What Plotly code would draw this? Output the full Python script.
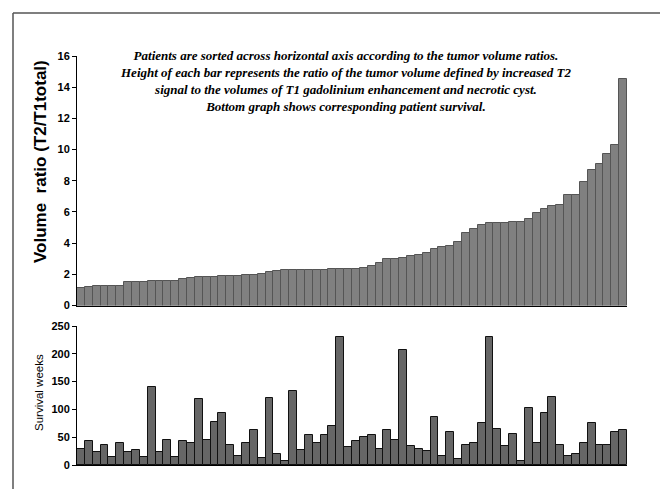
import plotly.graph_objects as go

# Volume ratio (T2 / T1 total) per patient, sorted ascending
volume_ratio = [
    1.14, 1.21, 1.25, 1.25, 1.25, 1.25, 1.53, 1.53, 1.53, 1.59,
    1.59, 1.59, 1.59, 1.68, 1.75, 1.82, 1.86, 1.86, 1.92, 1.92,
    1.92, 1.96, 1.96, 2.04, 2.12, 2.19, 2.26, 2.26, 2.30, 2.30,
    2.30, 2.30, 2.36, 2.36, 2.36, 2.36, 2.42, 2.55, 2.70, 2.96,
    2.96, 3.02, 3.15, 3.24, 3.37, 3.60, 3.74, 3.81, 4.07, 4.65,
    4.90, 5.18, 5.30, 5.30, 5.30, 5.33, 5.37, 5.56, 5.95, 6.17,
    6.38, 6.44, 7.08, 7.08, 7.92, 8.67, 9.05, 9.71, 10.29, 14.52,
]

# Survival in weeks for the same patients, same order
survival_weeks = [
    29, 43, 23, 36, 15, 40, 23, 27, 15, 140,
    23, 45, 14, 43, 40, 118, 45, 78, 94, 36,
    16, 40, 63, 12, 120, 19, 8, 133, 27, 54,
    40, 54, 71, 230, 32, 43, 50, 54, 29, 63,
    45, 207, 34, 29, 25, 87, 17, 59, 10, 36,
    40, 75, 230, 65, 34, 56, 7, 103, 40, 94,
    122, 36, 16, 19, 40, 75, 36, 36, 59, 63,
]

patients = list(range(1, len(volume_ratio) + 1))

ratio_ticks = [0, 2, 4, 6, 8, 10, 12, 14, 16]
survival_ticks = [0, 50, 100, 150, 200, 250]

note_lines = [
    "Patients are sorted across horizontal axis according to the tumor volume ratios.",
    "Height of each bar represents the ratio of the tumor volume defined by increased T2",
    "signal to the volumes of T1 gadolinium enhancement and necrotic cyst.",
    "Bottom graph shows corresponding patient survival.",
]

W, H = 660, 489
ML, MR, MT, MB = 77, 33, 56, 24
plot_w = W - ML - MR
plot_h = H - MT - MB


def px_x(x):
    return (x - ML) / plot_w


def px_y(y):
    return (H - MB - y) / plot_h


fig = go.Figure()

fig.add_trace(go.Bar(
    x=patients, y=volume_ratio,
    marker=dict(color="#808080", line=dict(color="#555555", width=1)),
    xaxis="x", yaxis="y", showlegend=False,
))

fig.add_trace(go.Bar(
    x=patients, y=survival_weeks,
    marker=dict(color="#666666", line=dict(color="#111111", width=1)),
    xaxis="x2", yaxis="y2", showlegend=False,
))

axis_font = dict(family="Liberation Sans, Arial", size=11, color="black", weight="bold")

fig.update_layout(
    width=W, height=H,
    margin=dict(l=ML, r=MR, t=MT, b=MB),
    paper_bgcolor="white", plot_bgcolor="white",
    bargap=0,
    xaxis=dict(domain=[0, 1], range=[0.5, len(patients) + 0.5], showticklabels=False,
               ticks="", showgrid=False, zeroline=False, showline=True,
               linecolor="black", linewidth=1, anchor="y"),
    yaxis=dict(domain=[px_y(305.5), 1], range=[0, 16], tickvals=ratio_ticks,
               ticks="outside", ticklen=4, tickcolor="black", tickfont=axis_font,
               showgrid=False, zeroline=False, showline=True, linecolor="black",
               linewidth=1, anchor="x"),
    xaxis2=dict(domain=[0, 1], range=[0.5, len(patients) + 0.5], showticklabels=False,
                ticks="", showgrid=False, zeroline=False, showline=True,
                linecolor="black", linewidth=1, anchor="y2"),
    yaxis2=dict(domain=[0, px_y(326)], range=[0, 250], tickvals=survival_ticks,
                ticks="outside", ticklen=4, tickcolor="black", tickfont=axis_font,
                showgrid=False, zeroline=False, showline=True, linecolor="black",
                linewidth=1, anchor="x2"),
)

# Explanatory note over the upper chart
fig.add_annotation(
    xref="paper", yref="paper", x=px_x(345), y=px_y(46),
    xanchor="center", yanchor="top", align="center", showarrow=False,
    text="<br>".join(note_lines),
    font=dict(family="Liberation Serif, Times New Roman", size=13,
              color="black", weight="bold", style="italic"),
)

# Axis titles
fig.add_annotation(
    xref="paper", yref="paper", x=px_x(40), y=px_y(162),
    xanchor="center", yanchor="middle", showarrow=False, textangle=-90,
    text="Volume  ratio (T2/T1total)",
    font=dict(family="Liberation Sans, Arial", size=17, color="black", weight="bold"),
)
fig.add_annotation(
    xref="paper", yref="paper", x=px_x(39), y=px_y(393),
    xanchor="center", yanchor="middle", showarrow=False, textangle=-90,
    text="Survival weeks",
    font=dict(family="Liberation Sans, Arial", size=11.5, color="black"),
)

# Outer frame (left and top edges)
fig.add_shape(type="line", xref="paper", yref="paper",
              x0=px_x(13), x1=px_x(13), y0=px_y(489), y1=px_y(13),
              line=dict(color="#555555", width=1.5))
fig.add_shape(type="line", xref="paper", yref="paper",
              x0=px_x(13), x1=px_x(660), y0=px_y(13), y1=px_y(13),
              line=dict(color="#555555", width=1.5))

fig.write_html("out.html")
